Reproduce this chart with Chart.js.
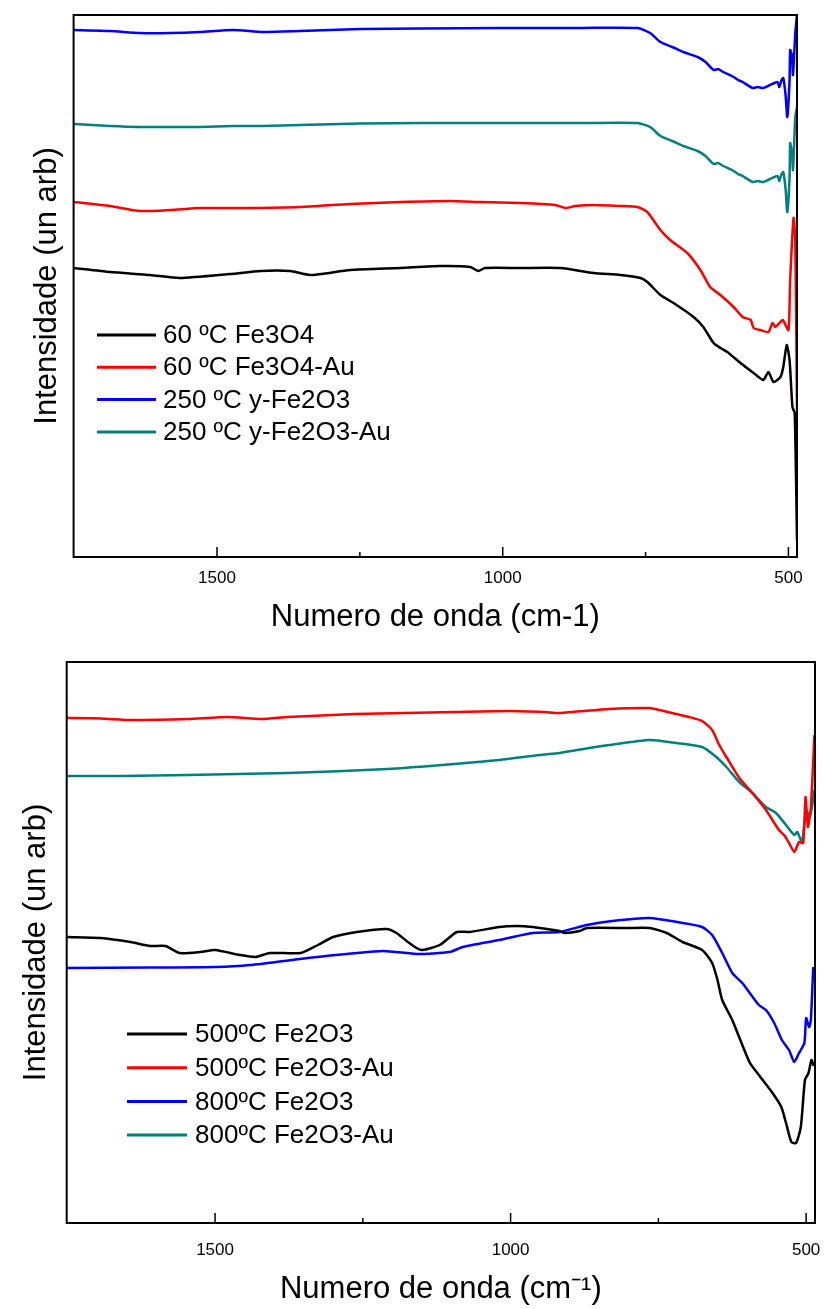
<!DOCTYPE html>
<html>
<head>
<meta charset="utf-8">
<script src="https://cdn.jsdelivr.net/npm/chart.js@4.4.1/dist/chart.umd.min.js"></script>
<style>
  html, body { margin: 0; padding: 0; background: #fff; }
  .panel { position: absolute; left: 0; width: 826px; }
  #top { top: 0; height: 640px; }
  #bottom { top: 640px; height: 669px; }
</style>
</head>
<body>
<div class="panel" id="top"><canvas id="chartTop" width="826" height="640"></canvas></div>
<div class="panel" id="bottom"><canvas id="chartBottom" width="826" height="669"></canvas></div>
<script>
'use strict';

// tick positions (cm-1)
const majorTicks = [1500, 1000, 500];
const minorTicks = [1250, 750];

// --- top panel: 60 C / 250 C samples ---
const wave60 = [1750, 1687, 1617, 1565, 1477, 1424, 1372, 1337, 1267, 1179, 1109, 1057, 1043, 1031, 969, 899, 841, 794, 759, 747, 724, 701, 666, 649, 631, 619, 607, 584, 561, 544, 535, 526, 514, 509, 503, 498, 493, 489, 485];
const int60 = [289, 285, 282, 279, 283, 286, 286, 282, 287, 289, 291, 290, 286, 289, 289, 289, 284, 282, 279, 275, 262, 254, 240, 230, 214, 209, 205, 194, 184, 177, 185, 175, 180, 190, 212, 197, 150, 144, 17];

const wave60Au = [1750, 1687, 1635, 1582, 1530, 1442, 1355, 1267, 1179, 1092, 1039, 969, 908, 890, 873, 841, 794, 764, 747, 724, 707, 677, 654, 637, 619, 596, 580, 566, 561, 549, 535, 528, 523, 519, 510, 500, 497, 491, 488, 485];
const int60Au = [355, 351, 346, 347, 349, 349, 350, 353, 355, 356, 355, 354, 352, 349, 351, 352, 351, 350, 345, 327, 317, 304, 287, 270, 262, 250, 240, 237, 229, 227, 225, 234, 230, 232, 237, 227, 277, 339, 317, 147];

const wave250 = [1750, 1687, 1635, 1582, 1530, 1472, 1419, 1355, 1249, 1144, 1004, 864, 764, 742, 724, 703, 684, 659, 645, 631, 623, 614, 596, 588, 580, 563, 554, 544, 532, 519, 516, 512, 509, 505, 502, 498, 497, 494, 492, 488, 485];
const int250 = [527, 526, 524, 524, 525, 527, 525, 526, 528, 528.5, 529, 529, 529, 524, 515, 510, 505, 500, 495, 487, 488, 485, 480, 477, 475, 469, 470, 469, 472, 475, 470, 477, 479, 462, 440, 477, 507, 502, 482, 524, 542];
const int250Au = [433, 431, 430, 430, 430, 431, 431, 432, 433.5, 434, 434, 434, 434, 430, 421, 416, 411, 406, 401, 393, 394, 391, 386, 383, 381, 375, 376, 375, 378, 381, 376, 383, 385, 368, 345, 380, 414, 405, 387, 440, 450];

// --- bottom panel: 500 C / 800 C samples ---
const wave500 = [1750, 1694, 1643, 1610, 1584, 1560, 1525, 1500, 1458, 1432, 1407, 1355, 1326, 1300, 1260, 1210, 1193, 1176, 1159, 1149, 1120, 1091, 1069, 1019, 990, 963, 917, 909, 883, 871, 804, 765, 736, 709, 676, 659, 650, 642, 625, 596, 580, 558, 542, 534, 525, 517, 509, 502, 496, 491, 487];
const int500 = [286, 285, 281, 277, 277, 270, 271, 273, 268, 266, 270, 270, 278, 286, 291, 294, 290, 282, 275, 273, 278, 291, 291, 296, 297, 296, 292, 290, 292, 295, 295, 295, 290, 281, 273, 260, 243, 223, 203, 161, 148, 131, 116, 100, 81, 80, 96, 143, 150, 163, 157];

const wave500Au = [1750, 1694, 1641, 1546, 1478, 1421, 1377, 1264, 1095, 1002, 943, 917, 833, 765, 748, 720, 698, 676, 659, 647, 635, 613, 591, 568, 546, 536, 529, 520, 512, 505, 501, 497, 492, 486];
const int500Au = [505, 504.5, 503, 504, 506, 504, 506, 509, 511, 512, 511, 510, 514, 515, 513, 509, 506, 502, 493, 478, 466, 445, 430, 413, 393, 387, 380, 371, 381, 380, 426, 396, 416, 488];

const wave800 = [1750, 1610, 1500, 1441, 1328, 1216, 1159, 1103, 1081, 1019, 963, 917, 871, 828, 765, 709, 676, 659, 642, 625, 608, 580, 568, 554, 541, 529, 520, 512, 503, 500, 495, 492, 488];
const int800 = [255, 255.5, 256, 258, 266, 272, 269, 271, 276, 283, 290, 291, 298, 302, 305, 300, 296, 288, 270, 250, 240, 218, 213, 200, 183, 173, 161, 170, 180, 205, 196, 203, 256];

const wave800Au = [1750, 1658, 1546, 1377, 1208, 1095, 1019, 951, 917, 867, 833, 765, 720, 676, 652, 635, 613, 591, 568, 551, 534, 520, 515, 507, 500, 494, 489, 486];
const int800Au = [447, 447, 448, 450, 454, 459, 463, 468, 470, 475, 478, 483, 480, 476, 466, 456, 441, 430, 416, 410, 398, 388, 391, 381, 413, 406, 420, 433];

const FONT = "'Liberation Sans', Arial, sans-serif";

function pts(xs, ys) {
  return xs.map((x, i) => ({ x: x, y: ys[i] }));
}

function series(label, color, xs, ys) {
  return {
    label: label,
    data: pts(xs, ys),
    borderColor: color,
    backgroundColor: color,
    borderWidth: 2.5,
    pointRadius: 0,
    tension: 0.2,
    fill: false
  };
}

// box, inward ticks and legend, drawn on top of the chart area
const framePlugin = {
  id: 'frame',
  afterDatasetsDraw(chart, args, opts) {
    const ctx = chart.ctx;
    const a = chart.chartArea;
    const x = chart.scales.x;
    ctx.save();
    ctx.strokeStyle = '#000';
    ctx.lineWidth = 2;
    ctx.strokeRect(a.left, a.top, a.right - a.left, a.bottom - a.top);
    ctx.lineWidth = 1.5;
    ctx.beginPath();
    majorTicks.forEach(v => {
      const px = x.getPixelForValue(v);
      ctx.moveTo(px, a.bottom);
      ctx.lineTo(px, a.bottom - 10);
    });
    minorTicks.forEach(v => {
      const px = x.getPixelForValue(v);
      ctx.moveTo(px, a.bottom);
      ctx.lineTo(px, a.bottom - 5);
    });
    ctx.stroke();

    // legend
    const lg = opts.legend;
    ctx.font = lg.size + 'px ' + FONT;
    ctx.textBaseline = 'middle';
    ctx.textAlign = 'left';
    chart.data.datasets.forEach((ds, i) => {
      const y = lg.y + i * lg.dy;
      ctx.strokeStyle = ds.borderColor;
      ctx.lineWidth = 3;
      ctx.beginPath();
      ctx.moveTo(lg.x1, y);
      ctx.lineTo(lg.x2, y);
      ctx.stroke();
      ctx.fillStyle = '#000';
      ctx.fillText(ds.label, lg.tx, y + 1);
    });
    ctx.restore();
  }
};

function makeChart(id, datasets, cfg) {
  const ctx = document.getElementById(id).getContext('2d');
  return new Chart(ctx, {
    type: 'line',
    data: { datasets: datasets },
    plugins: [framePlugin],
    options: {
      responsive: false,
      animation: false,
      devicePixelRatio: 1,
      layout: { padding: { top: cfg.top, right: cfg.right, left: 0, bottom: 0 } },
      plugins: {
        legend: { display: false },
        tooltip: { enabled: false },
        frame: { legend: cfg.legend }
      },
      scales: {
        x: {
          type: 'linear',
          reverse: true,
          min: 485,
          max: 1751,
          afterFit: s => {
            s.height = cfg.xHeight;
            s.paddingLeft = 0;
            s.paddingRight = 0;
          },
          afterBuildTicks: s => { s.ticks = majorTicks.map(v => ({ value: v })); },
          grid: { display: false, drawTicks: false },
          border: { display: false },
          ticks: {
            color: '#000',
            padding: cfg.tickPad,
            maxRotation: 0,
            autoSkip: false,
            callback: v => String(v),
            font: { family: FONT, size: 17 }
          },
          title: {
            display: true,
            text: cfg.xTitle,
            color: '#000',
            font: { family: FONT, size: 31 },
            padding: { top: 0, bottom: cfg.xTitlePad }
          }
        },
        y: {
          min: 0,
          max: cfg.yMax,
          afterFit: s => { s.width = cfg.yWidth; },
          grid: { display: false, drawTicks: false },
          border: { display: false },
          ticks: { display: false },
          title: {
            display: true,
            text: 'Intensidade (un arb)',
            color: '#000',
            font: { family: FONT, size: 31 },
            padding: { top: cfg.yTitlePad, bottom: 0 }
          }
        }
      }
    }
  });
}

makeChart('chartTop', [
  series('60 ºC Fe3O4', '#000000', wave60, int60),
  series('60 ºC Fe3O4-Au', '#ff0000', wave60Au, int60Au),
  series('250 ºC y-Fe2O3', '#0000ff', wave250, int250),
  series('250 ºC y-Fe2O3-Au', '#008080', wave250, int250Au)
], {
  top: 15, right: 29, xHeight: 83, yWidth: 73.6, yMax: 542,
  tickPad: 11, xTitlePad: 4, yTitlePad: 29,
  xTitle: 'Numero de onda (cm-1)',
  legend: { x1: 97, x2: 156, tx: 163, y: 335, dy: 32.3, size: 26 }
});

makeChart('chartBottom', [
  series('500ºC Fe2O3', '#000000', wave500, int500),
  series('500ºC Fe2O3-Au', '#ff0000', wave500Au, int500Au),
  series('800ºC Fe2O3', '#0000ff', wave800, int800),
  series('800ºC Fe2O3-Au', '#008080', wave800Au, int800Au)
], {
  top: 22, right: 11, xHeight: 86, yWidth: 66.7, yMax: 561,
  tickPad: 17, xTitlePad: 1, yTitlePad: 18,
  xTitle: 'Numero de onda (cm⁻¹)',
  legend: { x1: 127, x2: 187, tx: 195, y: 394, dy: 33.7, size: 26 }
});
</script>
</body>
</html>
